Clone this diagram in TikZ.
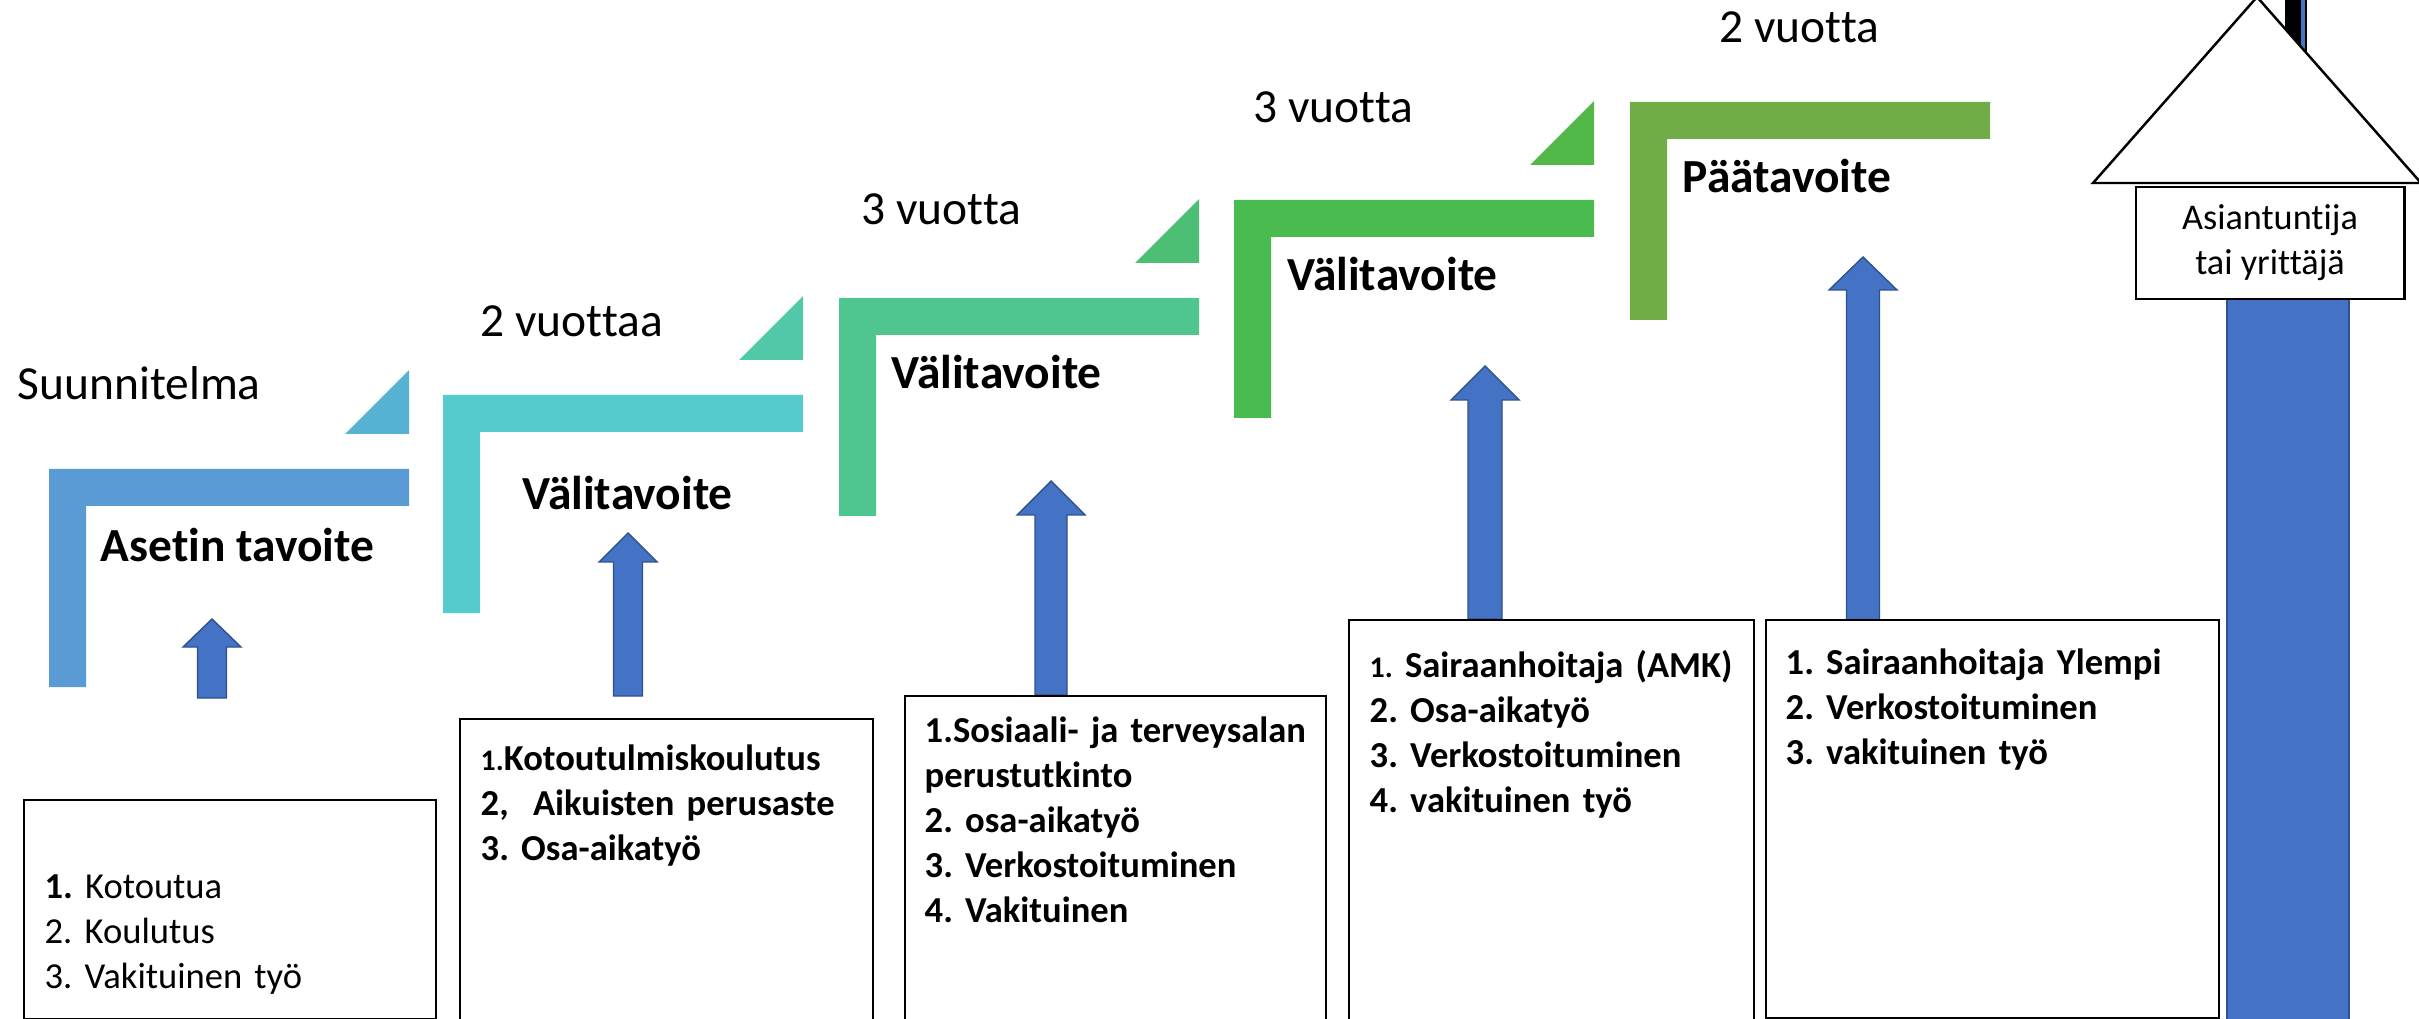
\documentclass[tikz,border=0pt]{standalone}
\usepackage{fontspec}
\setmainfont{Carlito}[Ligatures=NoCommon]
\frenchspacing
\definecolor{stepA}{HTML}{5B9BD5}
\definecolor{stepB}{HTML}{56CBCC}
\definecolor{stepC}{HTML}{4FC58F}
\definecolor{stepD}{HTML}{4ABB4F}
\definecolor{stepE}{HTML}{70AD47}
\definecolor{triA}{HTML}{55B2D0}
\definecolor{triB}{HTML}{51C9A9}
\definecolor{triC}{HTML}{4CBF74}
\definecolor{triD}{HTML}{52B848}
\definecolor{arrowblue}{HTML}{4472C4}
\definecolor{arrowedge}{HTML}{2F528F}
\begin{document}
\begin{tikzpicture}[x=0.01cm,y=-0.01cm,
	years/.style={anchor=base west,inner sep=0,font=\fontsize{13.5}{16}\selectfont},
	goal/.style={years,font=\fontsize{13.5}{16}\selectfont\bfseries},
	listbox/.style={draw,line width=0.6pt,fill=white,anchor=north west,inner sep=0},
	listtext/.style={anchor=north west,inner sep=0,text width=4.3cm,align=left,
		font=\fontsize{10.4}{12.8}\selectfont\bfseries},
	blockarrow/.style={fill=arrowblue,draw=arrowedge,line width=0.4pt}]
\useasboundingbox (0,0) rectangle (2419,1019);
\clip (0,0) rectangle (2419,1019);

\foreach \x/\y/\c/\t in {49/469/stepA/triA,443/395/stepB/triB,839/298/stepC/triC,
	1234/200/stepD/triD,1630/102/stepE/none}{
	\fill[fill=\c] (\x,\y) -- ++(360,0) -- ++(0,37) -- ++(-323,0) -- ++(0,181) -- ++(-37,0) -- cycle;
	\fill[fill=\t] (\x+296,\y-35) -- (\x+360,\y-35) -- (\x+360,\y-99) -- cycle;
}

\node[years] (plan) at (17,400) {Suunnitelma};
\node[years] (y1) at (480,337) {2 vuottaa};
\node[years] (y2) at (861,225) {3 vuotta};
\node[years] (y3) at (1253,123) {3 vuotta};
\node[years] (y4) at (1719,43) {2 vuotta};

\node[goal] (g1) at (100,561) {Asetin tavoite};
\node[goal] (g2) at (522,510) {Välitavoite};
\node[goal] (g3) at (891,389) {Välitavoite};
\node[goal] (g4) at (1287,291) {Välitavoite};
\node[goal] (g5) at (1682,193) {Päätavoite};

\foreach \cx/\tip/\base/\bot/\sw/\hw in {212/619/647/698/14.5/29,628/533/562/696/14.5/29,
	1051/481/515/695/16/34,1485/366/400/619/17/34,1863/257/290/620/16.5/34}
	\filldraw[blockarrow] (\cx-\sw,\bot) -- (\cx-\sw,\base) -- (\cx-\hw,\base) -- (\cx,\tip)
		-- (\cx+\hw,\base) -- (\cx+\sw,\base) -- (\cx+\sw,\bot) -- cycle;

\node[listbox,minimum width=4.12cm,minimum height=2.19cm] (box1) at (23,799) {};
\node[listbox,minimum width=4.13cm,minimum height=3.3cm] (box2) at (459,718) {};
\node[listbox,minimum width=4.21cm,minimum height=3.5cm] (box3) at (904,695) {};
\node[listbox,minimum width=4.05cm,minimum height=4.3cm] (box4) at (1348,619) {};
\node[listbox,minimum width=4.53cm,minimum height=3.98cm] (box5) at (1765,619) {};

\node[listtext,font=\fontsize{10.4}{12.8}\selectfont] (t1) at (44,866.5)
	{\strut\textbf{1.} Kotoutua\\2. Koulutus\\3. Vakituinen työ};
\node[listtext] (t2) at (480,738.5)
	{\strut{\fontsize{8.5}{10}\selectfont 1.}Kotoutulmiskoulutus\\2,\ \ Aikuisten perusaste\\3. Osa-aikatyö};
\node[listtext] (t3) at (924,710.5)
	{\strut 1.Sosiaali- ja terveysalan\\perustutkinto\\2. osa-aikatyö\\3. Verkostoituminen\\4. Vakituinen};
\node[listtext] (t4) at (1369,645.5)
	{\strut{\fontsize{8.5}{10}\selectfont 1.} Sairaanhoitaja (AMK)\\2. Osa-aikatyö\\3. Verkostoituminen\\4. vakituinen työ};
\node[listtext] (t5) at (1785,642.5)
	{\strut 1. Sairaanhoitaja Ylempi\\2. Verkostoituminen\\3. vakituinen työ};

\filldraw[fill=arrowblue,draw=arrowedge,line width=0.6pt] (2227,299) rectangle (2349,1030);
\fill[black] (2285,-5) rectangle (2307,90);
\fill[arrowblue] (2301,-5) rectangle (2305,90);
\filldraw[fill=white,draw=black,line width=0.7pt] (2093,183) -- (2257,-3) -- (2421,183) -- cycle;
\node[draw,fill=white,line width=0.8pt,minimum width=2.68cm,minimum height=1.12cm,align=center,
	font=\fontsize{10.3}{12.8}\selectfont] (expert) at (2270,243) {Asiantuntija\\tai yrittäjä};
\end{tikzpicture}
\end{document}
